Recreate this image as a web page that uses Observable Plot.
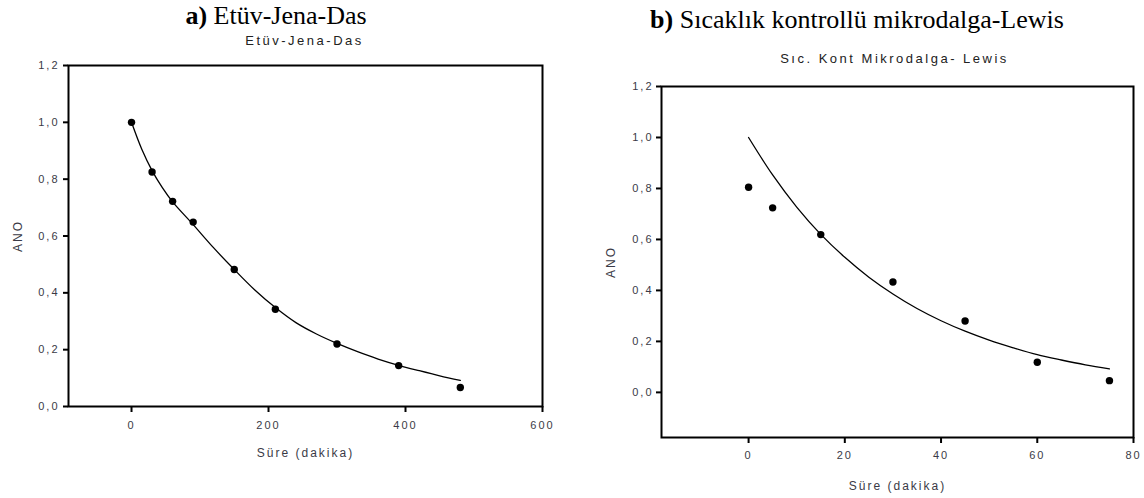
<!DOCTYPE html>
<html>
<head>
<meta charset="utf-8">
<script src="https://cdn.jsdelivr.net/npm/d3@7"></script>
<script src="https://cdn.jsdelivr.net/npm/@observablehq/plot@0.6"></script>
<style>
  html, body { margin: 0; padding: 0; background: #fff; }
  #wrap { position: relative; width: 1144px; height: 498px; overflow: hidden; background: #fff; }
  .panel { position: absolute; top: 0; z-index: 1; }
  .panel svg { background: transparent !important; }
  .panel svg text { letter-spacing: 2px; }
  .panel svg text.sub { letter-spacing: 2.5px; }
  .title { position: absolute; z-index: 5; font-family: "Liberation Serif", "Times New Roman", serif; font-size: 26px; line-height: 26px; color: #000; white-space: nowrap; transform: translateX(-50%); }
</style>
</head>
<body>
<div id="wrap">
  <div class="panel" id="pA" style="left:0px;"></div>
  <div class="panel" id="pB" style="left:572px;"></div>
  <div class="title" id="tA" style="left:276px; top:3px;"><b>a)</b> Etüv-Jena-Das</div>
  <div class="title" id="tB" style="left:857px; top:7px;"><b>b)</b> Sıcaklık kontrollü mikrodalga-Lewis</div>
</div>
<script>
// ---- Panel a: Etüv - Jena-Das ----
const subtitleA = "Etüv-Jena-Das";
const timeA = [0, 30, 60, 90, 150, 210, 300, 390, 480];
const anoA  = [1.0, 0.825, 0.722, 0.649, 0.482, 0.342, 0.22, 0.144, 0.067];
const fitTimeA = [0, 15, 30, 45, 60, 90, 120, 150, 180, 210, 240, 270, 300, 330, 360, 390, 420, 450, 480];
const fitAnoA  = [1.0, 0.905, 0.83, 0.77, 0.72, 0.64, 0.558, 0.482, 0.41, 0.348, 0.295, 0.255, 0.222, 0.193, 0.167, 0.145, 0.126, 0.108, 0.092];
const xTicksA = [0, 200, 400, 600];

// ---- Panel b: Sıcaklık kontrollü mikrodalga - Lewis ----
const subtitleB = "Sıc. Kont Mikrodalga- Lewis";
const timeB = [0, 5, 15, 30, 45, 60, 75];
const anoB  = [0.805, 0.724, 0.619, 0.433, 0.28, 0.118, 0.046];
const fitTimeB = [0, 5, 10, 15, 20, 25, 30, 35, 40, 45, 50, 55, 60, 65, 70, 75];
const fitAnoB  = [1.0, 0.853, 0.727, 0.62, 0.53, 0.452, 0.386, 0.329, 0.281, 0.24, 0.205, 0.175, 0.148, 0.127, 0.108, 0.092];
const xTicksB = [0, 20, 40, 60, 80];

const yTicks = [0, 0.2, 0.4, 0.6, 0.8, 1.0, 1.2];
const xLabel = "Süre (dakika)";
const yLabel = "ANO";

const textColor = "#3a3a46";
const fmtY = d => d.toFixed(1).replace(".", ",");

function panel({t, v, ft, fv, xDomain, yDomain, xTicks, subtitle, m, xPad, yPad, subDx, subDy, xLabDy}) {
  const obs = t.map((d, i) => ({t: d, v: v[i]}));
  const fit = ft.map((d, i) => ({t: d, v: fv[i]}));
  return Plot.plot({
    width: 572, height: 498,
    marginLeft: m[0], marginRight: m[1], marginTop: m[2], marginBottom: m[3],
    style: {fontFamily: "'Liberation Sans', Arial, sans-serif", fontSize: "11px", background: "transparent"},
    x: {domain: xDomain},
    y: {domain: yDomain},
    marks: [
      Plot.line(fit, {x: "t", y: "v", curve: "catmull-rom", stroke: "#000", strokeWidth: 1.3}),
      Plot.dot(obs, {x: "t", y: "v", r: 3.7, fill: "#000", stroke: "none"}),
      Plot.frame({stroke: "#000", strokeWidth: 2}),
      Plot.axisX({ticks: xTicks, tickFormat: d => String(d), tickSize: 6, tickPadding: xPad, stroke: "#000", strokeWidth: 2, fill: textColor, label: null, fontSize: 11}),
      Plot.axisY({ticks: yTicks, tickFormat: fmtY, tickSize: 5, tickPadding: yPad, stroke: "#000", strokeWidth: 2, fill: textColor, label: null, fontSize: 11}),
      Plot.text([xLabel], {frameAnchor: "bottom", dy: xLabDy, lineAnchor: "middle", fill: textColor, fontSize: 12}),
      Plot.text([yLabel], {frameAnchor: "left", dx: -50, rotate: -90, textAnchor: "middle", lineAnchor: "middle", fill: textColor, fontSize: 12}),
      Plot.text([subtitle], {frameAnchor: "top", dx: subDx, dy: subDy, lineAnchor: "middle", fill: "#222", fontSize: 13})
    ]
  });
}

const a = panel({
  t: timeA, v: anoA, ft: fitTimeA, fv: fitAnoA,
  xDomain: [-92, 600], yDomain: [0, 1.2], xTicks: xTicksA, subtitle: subtitleA,
  m: [68, 30, 65, 92], xPad: 9, yPad: 4, subDx: -1, subDy: -25, xLabDy: 47
});
const b = panel({
  t: timeB, v: anoB, ft: fitTimeB, fv: fitAnoB,
  xDomain: [-18.1, 80], yDomain: [-0.177, 1.2], xTicks: xTicksB, subtitle: subtitleB,
  m: [89, 11, 86, 61], xPad: 8, yPad: 3, subDx: -3, subDy: -28, xLabDy: 49
});
document.getElementById("pA").appendChild(a);
document.getElementById("pB").appendChild(b);
// wider tracking for the panel subtitles
for (const svg of [a, b]) {
  svg.querySelectorAll("text").forEach(el => {
    if (el.textContent === subtitleA || el.textContent === subtitleB) el.classList.add("sub");
  });
}
</script>
</body>
</html>
